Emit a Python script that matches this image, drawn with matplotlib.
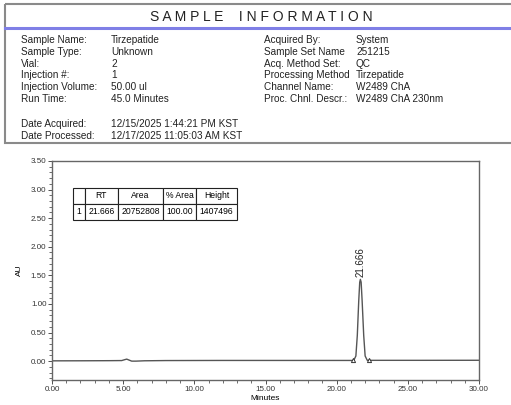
import matplotlib.pyplot as plt
from matplotlib.patches import Rectangle

plt.rcParams['font.family'] = ['Liberation Sans', 'DejaVu Sans']

# sample information
labels_left = ["Sample Name:", "Sample Type:", "Vial:", "Injection #:",
               "Injection Volume:", "Run Time:"]
values_left = ["Tirzepatide", "Unknown", "2", "1", "50.00 ul", "45.0 Minutes"]
labels_right = ["Acquired By:", "Sample Set Name", "Acq. Method Set:",
                "Processing Method", "Channel Name:", "Proc. Chnl. Descr.:"]
values_right = ["System", "251215", "QC", "Tirzepatide", "W2489 ChA", "W2489 ChA 230nm"]
labels_date = ["Date Acquired:", "Date Processed:"]
values_date = ["12/15/2025 1:44:21 PM KST", "12/17/2025 11:05:03 AM KST"]

# chromatogram trace (minutes, AU)
t = [0.0, 2.0, 4.0, 4.9, 5.1, 5.25, 5.4, 5.6, 5.9, 6.5, 8.0, 12.0, 16.0, 20.0, 21.2,
     21.35, 21.45, 21.55, 21.62, 21.666, 21.72, 21.79, 21.9, 22.0, 22.15, 23.0, 26.0, 30.0]
au = [0.005, 0.006, 0.008, 0.01, 0.025, 0.035, 0.02, 0.0, 0.0, 0.006, 0.01, 0.012, 0.012, 0.012, 0.012,
      0.09, 0.45, 1.05, 1.38, 1.43, 1.38, 1.05, 0.45, 0.09, 0.014, 0.014, 0.014, 0.015]

peak_rt = 21.666
peak_top = 1.43
peak_marks_t = [21.13, 22.27]

table_cols = ["", "RT", "Area", "% Area", "Height"]
table_row = ["1", "21.666", "20752808", "100.00", "1407496"]

fig = plt.figure(figsize=(5.11, 4.05), dpi=100)

# header overlay in pixel coordinates
hd = fig.add_axes([0, 0, 1, 1])
hd.set_xlim(0, 511)
hd.set_ylim(405, 0)
hd.axis('off')
hd.add_patch(Rectangle((5, 4), 520, 139, fill=False, edgecolor='#8a8a8a', lw=1.5, clip_on=False))
hd.plot([5, 511], [27.5, 27.5], color='#7f7fe6', lw=2.2)
hd.text(261, 17, "S A M P L E    I N F O R M A T I O N", ha='center', va='center',
        fontsize=10, color='#222222')
fs = 7.2
for i in range(6):
    y = 40 + i * 11.8
    hd.text(21, y, labels_left[i], fontsize=fs, va='center', color='#222222')
    hd.text(111, y, values_left[i], fontsize=fs, va='center', color='#222222')
    hd.text(264, y, labels_right[i], fontsize=fs, va='center', color='#222222')
    hd.text(356, y, values_right[i], fontsize=fs, va='center', color='#222222')
for i in range(2):
    y = 124 + i * 12
    hd.text(21, y, labels_date[i], fontsize=fs, va='center', color='#222222')
    hd.text(111, y, values_date[i], fontsize=fs, va='center', color='#222222')

# chromatogram
ax = fig.add_axes([52 / 511, 25 / 405, 427 / 511, 219 / 405])
ax.plot(t, au, color='#555555', lw=1.0)
ax.plot(peak_marks_t, [0.012, 0.012], ls='none', marker='^', ms=3, mfc='white',
        mec='#333333', mew=0.7)
ax.text(peak_rt, peak_top + 0.04, "21.666", rotation=90, ha='center', va='bottom',
        fontsize=7, color='#222222')
ax.set_xlim(0, 30)
ax.set_ylim(-0.33, 3.5)
ax.set_xticks([0, 5, 10, 15, 20, 25, 30])
ax.set_xticklabels(["0.00", "5.00", "10.00", "15.00", "20.00", "25.00", "30.00"])
ax.set_xticks(range(0, 31), minor=True)
ax.set_yticks([0, 0.5, 1.0, 1.5, 2.0, 2.5, 3.0, 3.5])
ax.set_yticklabels(["0.00", "0.50", "1.00", "1.50", "2.00", "2.50", "3.00", "3.50"])
ax.set_yticks([i / 10 for i in range(-3, 36)], minor=True)
ax.tick_params(labelsize=5.8, colors='#333333', length=3, width=0.6, pad=1)
ax.tick_params(which='minor', length=2, width=0.5, colors='#333333')
for s in ax.spines.values():
    s.set_color('#666666')
    s.set_linewidth(1.0)
ax.set_xlabel("Minutes", fontsize=6, labelpad=2)
ax.set_ylabel("AU", fontsize=6, labelpad=6)

tb = ax.table(cellText=[table_row], colLabels=table_cols, cellLoc='center',
              colWidths=[12, 33, 45, 33, 41], bbox=[0.049, 0.731, 0.384, 0.146])
tb.auto_set_font_size(False)
tb.set_fontsize(6.2)
for c in tb.get_celld().values():
    c.set_linewidth(0.8)
    c.set_edgecolor('#222222')

fig.savefig("out.png", dpi=100)
